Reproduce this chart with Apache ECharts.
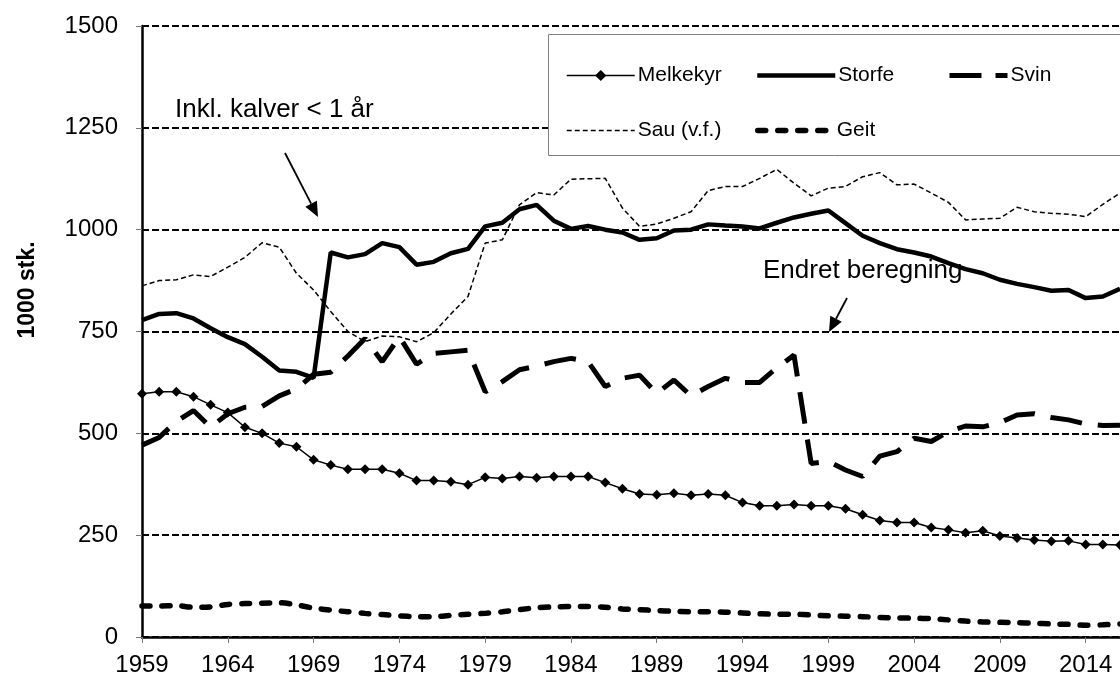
<!DOCTYPE html>
<html>
<head>
<meta charset="utf-8">
<title>Husdyr 1959-2016</title>
<script src="https://cdn.jsdelivr.net/npm/echarts@6/dist/echarts.min.js"></script>
<style>
html, body { margin: 0; padding: 0; background: #fff; }
#chart { width: 1120px; height: 680px; }
</style>
</head>
<body>
<div id="chart"></div>
<script>
var years = ['1959','1960','1961','1962','1963','1964','1965','1966','1967','1968',
	'1969','1970','1971','1972','1973','1974','1975','1976','1977','1978',
	'1979','1980','1981','1982','1983','1984','1985','1986','1987','1988',
	'1989','1990','1991','1992','1993','1994','1995','1996','1997','1998',
	'1999','2000','2001','2002','2003','2004','2005','2006','2007','2008',
	'2009','2010','2011','2012','2013','2014','2015','2016'];

// 1000 stk.
var melkekyr = [597,602,602,590,570,551,515,500,476,467,
	435,422,412,412,412,402,384,384,381,374,
	392,389,394,391,394,394,394,379,364,351,
	349,353,348,351,348,330,322,322,325,322,
	322,315,300,286,281,281,269,263,256,261,
	248,243,238,235,236,227,227,226];
var storfe = [778,793,795,782,758,736,719,688,654,651,
	636,944,932,940,967,957,914,921,942,953,
	1008,1017,1050,1061,1022,1002,1009,1000,993,975,
	979,998,1000,1013,1010,1008,1003,1017,1030,1039,
	1047,1016,985,967,952,944,934,918,903,893,
	877,867,859,850,852,832,836,855];
var svin = [471,490,529,556,515,548,564,566,592,609,
	645,650,690,733,676,737,670,696,700,704,
	602,627,656,665,676,684,676,615,635,643,
	598,631,592,615,635,625,625,661,692,426,
	431,410,394,444,455,488,480,504,518,516,
	526,545,548,539,533,523,519,520];
var sau = [862,875,877,889,885,908,932,968,957,893,
	852,799,750,725,739,737,725,747,793,836,
	967,975,1061,1091,1085,1124,1125,1126,1053,1008,
	1014,1028,1044,1096,1106,1106,1126,1148,1114,1083,
	1102,1106,1130,1140,1110,1112,1090,1067,1024,1026,
	1028,1055,1044,1040,1038,1032,1062,1090];
var geit = [76,76,77,73,74,80,82,83,84,79,
	71,66,62,58,55,52,50,50,53,56,
	58,62,67,72,74,75,75,73,69,67,
	65,63,62,62,61,59,57,56,56,54,
	52,51,50,48,47,46,45,42,39,37,
	36,35,34,32,31,29,30,32];

var yTicks = [0, 250, 500, 750, 1000, 1250, 1500];

(function() {
	var chart = echarts.init(document.getElementById('chart'));
	var font = '"Liberation Sans", Arial, sans-serif';

	// pil: linje + trekant
	function arrow(x1, y1, x2, y2) {
		var dx = x2 - x1, dy = y2 - y1;
		var d = Math.sqrt(dx * dx + dy * dy);
		var ux = dx / d, uy = dy / d;
		var len = 15, half = 6.5;
		var bx = x2 - ux * len, by = y2 - uy * len;
		return [{
			type: 'line', z: 25,
			shape: { x1: x1, y1: y1, x2: bx, y2: by },
			style: { stroke: '#000', lineWidth: 1.8 }
		}, {
			type: 'polygon', z: 25,
			shape: { points: [[x2, y2], [bx - uy * half, by + ux * half], [bx + uy * half, by - ux * half]] },
			style: { fill: '#000' }
		}];
	}

	// en legend per serie, plassert som i originalen
	function legendItem(name, left, top, w, line, marker) {
		return {
			data: [name],
			left: left,
			top: top,
			itemWidth: w,
			itemHeight: 14,
			padding: 0,
			z: 30,
			selectedMode: false,
			lineStyle: line,
			itemStyle: marker ? { color: '#000', opacity: 1 } : { color: 'transparent', opacity: 0, borderWidth: 0 },
			textStyle: { fontFamily: font, fontSize: 21, color: '#000', padding: [0, 0, 0, -2] }
		};
	}

	var graphics = [{
		type: 'rect', z: 20,
		shape: { x: 548.5, y: 34.5, width: 620, height: 121 },
		style: { fill: '#fff', stroke: '#7f7f7f', lineWidth: 1 }
	}, {
		type: 'text', z: 25,
		style: { x: 175, y: 110, text: 'Inkl. kalver < 1 år', font: '26px ' + font, fill: '#000', verticalAlign: 'middle' }
	}, {
		type: 'text', z: 25,
		style: { x: 763, y: 271, text: 'Endret beregning', font: '26px ' + font, fill: '#000', verticalAlign: 'middle' }
	}, {
		type: 'text', z: 25,
		x: 28, y: 290, rotation: Math.PI / 2,
		style: { x: 0, y: 0, text: '1000 stk.', font: 'bold 23px ' + font, fill: '#000', align: 'center', verticalAlign: 'middle' }
	}];
	graphics = graphics.concat(arrow(285, 153, 318, 217), arrow(847, 298, 829, 332));

	option = {
		animation: false,
		backgroundColor: '#fff',
		grid: { left: 142, top: 26, bottom: 43, right: -10 },
		legend: [
			legendItem('Melkekyr', 566, 65, 68, { color: '#000', width: 1.5, type: 'solid' }, true),
			legendItem('Storfe', 755, 65, 78, { color: '#000', width: 4.5, type: 'solid' }),
			legendItem('Svin', 947, 65, 58, { color: '#000', width: 5, type: [32, 14] }),
			legendItem('Sau (v.f.)', 566, 120, 68, { color: '#000', width: 1.5, type: [5, 3] }),
			legendItem('Geit', 755, 120, 76, { color: '#000', width: 5.5, type: [8, 12], cap: 'round' })
		],
		xAxis: {
			type: 'category',
			data: years,
			boundaryGap: false,
			axisLine: { lineStyle: { color: '#000', width: 2.5 } },
			axisTick: { interval: 4, length: 6, lineStyle: { color: '#777', width: 1 } },
			axisLabel: { interval: 4, margin: 16, fontFamily: font, fontSize: 24, color: '#000' },
			splitLine: { show: false }
		},
		yAxis: {
			type: 'value',
			min: yTicks[0],
			max: yTicks[yTicks.length - 1],
			interval: 250,
			axisLine: { show: true, lineStyle: { color: '#000', width: 2.5 } },
			axisTick: { show: true, length: 6, lineStyle: { color: '#777', width: 1 } },
			axisLabel: {
				margin: 24, fontFamily: font, fontSize: 24, color: '#000',
				formatter: function(v) { return String(v); }
			},
			splitLine: { lineStyle: { color: '#000', width: 2, type: [7, 3] } }
		},
		series: [{
			name: 'Melkekyr', type: 'line', data: melkekyr,
			symbol: 'diamond', symbolSize: 10,
			itemStyle: { color: '#000' },
			lineStyle: { color: '#000', width: 1.5 }
		}, {
			name: 'Storfe', type: 'line', data: storfe, symbol: 'none',
			itemStyle: { color: '#000' },
			lineStyle: { color: '#000', width: 4.5 }
		}, {
			name: 'Svin', type: 'line', data: svin, symbol: 'none',
			itemStyle: { color: '#000' },
			lineStyle: { color: '#000', width: 5, type: [32, 16] }
		}, {
			name: 'Sau (v.f.)', type: 'line', data: sau, symbol: 'none',
			itemStyle: { color: '#000' },
			lineStyle: { color: '#000', width: 1.5, type: [5, 3] }
		}, {
			name: 'Geit', type: 'line', data: geit, symbol: 'none', smooth: 0.3,
			itemStyle: { color: '#000' },
			lineStyle: { color: '#000', width: 5.5, type: [8, 12], cap: 'round' }
		}],
		graphic: graphics
	};

	chart.setOption(option);
})();
</script>
</body>
</html>
